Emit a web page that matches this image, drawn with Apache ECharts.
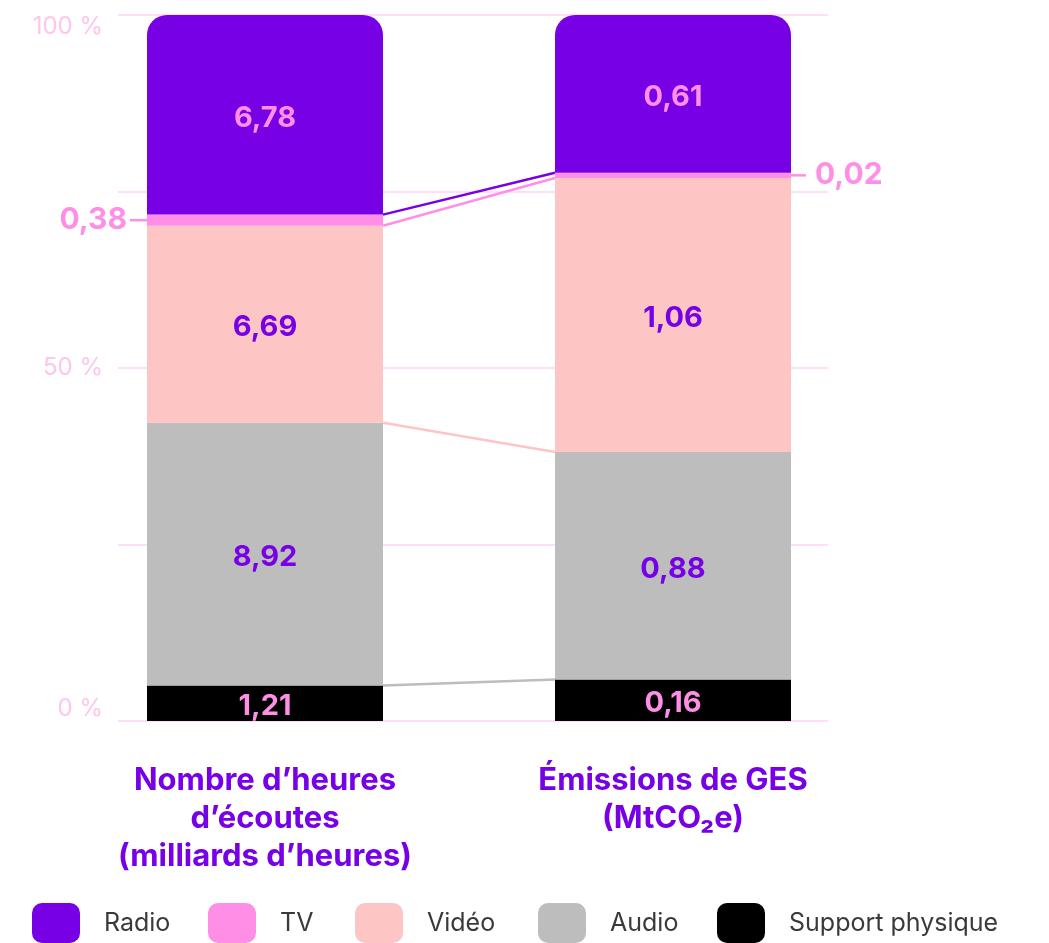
<!DOCTYPE html>
<html>
<head>
<meta charset="utf-8">
<script src="https://cdn.jsdelivr.net/npm/echarts@6/dist/echarts.min.js"></script>
<style>
  html, body { margin: 0; padding: 0; background: #fff; }
  #chart { width: 1049px; height: 943px; }
</style>
</head>
<body>
<div id="chart"></div>
<script>
// categories (x axis)
var categories = ["Nombre d’heures\nd’écoutes\n(milliards d’heures)", "Émissions de GES\n(MtCO₂e)"];
// series, bottom to top of the stack
var seriesNames = ["Support physique", "Audio", "Vidéo", "TV", "Radio"];
var supportValues = [1.21, 0.16];
var audioValues = [8.92, 0.88];
var videoValues = [6.69, 1.06];
var tvValues = [0.38, 0.02];
var radioValues = [6.78, 0.61];
// legend order
var legendNames = ["Radio", "TV", "Vidéo", "Audio", "Support physique"];

var rawValues = [supportValues, audioValues, videoValues, tvValues, radioValues];
var colors = ["#000000", "#bdbdbd", "#fec5c5", "#ff8fe6", "#7700e5"];
var labelColors = ["#ff8fe6", "#7700e5", "#7700e5", "#ff8fe6", "#ff8fe6"];
var BAR_W = 236;
var FONT = "Inter";

var totals = categories.map(function (c, i) {
  return rawValues.reduce(function (s, arr) { return s + arr[i]; }, 0);
});
var pct = rawValues.map(function (arr) {
  return arr.map(function (v, i) { return v / totals[i] * 100; });
});
function fmt(v) { return v.toFixed(2).replace(".", ","); }

// cumulative tops of each segment (boundaries) for connector lines
var cum = [];
var run = [0, 0];
pct.forEach(function (arr, k) {
  run = [run[0] + arr[0], run[1] + arr[1]];
  cum.push(run.slice());
});
var connectorData = [];
for (var k = 0; k < 4; k++) {
  connectorData.push([0, cum[k][0], cum[k][1], k]);
}

var barSeries = seriesNames.map(function (name, k) {
  var isTv = name === "TV";
  return {
    name: name,
    type: "bar",
    stack: "total",
    xAxisIndex: 0,
    yAxisIndex: 0,
    barWidth: BAR_W,
    itemStyle: {
      color: colors[k],
      borderRadius: name === "Radio" ? [20, 20, 0, 0] : 0
    },
    label: {
      show: true,
      position: "inside",
      offset: [0, 3],
      color: labelColors[k],
      fontFamily: FONT,
      fontWeight: "bold",
      fontSize: isTv ? 30 : 29,
      formatter: function (p) { return fmt(rawValues[k][p.dataIndex]); }
    },
    data: pct[k].map(function (v, i) {
      if (!isTv) return v;
      return { value: v, label: { offset: [0, 0], position: i === 0 ? "left" : "right", distance: i === 0 ? 20 : 24 } };
    }),
    z: 2
  };
});

var option = {
  animation: false,
  backgroundColor: "#ffffff",
  grid: [
    { left: 61, right: 172, top: 15, bottom: 222 },
    { left: 118, right: 221, top: 15, bottom: 222 }
  ],
  xAxis: [
    {
      type: "category",
      gridIndex: 0,
      data: categories,
      axisLine: { show: false },
      axisTick: { show: false },
      axisLabel: {
        color: "#7700e5",
        fontFamily: FONT,
        fontWeight: "bold",
        fontSize: 31,
        lineHeight: 38,
        margin: 41
      }
    },
    { type: "value", gridIndex: 1, show: false }
  ],
  yAxis: [
    { type: "value", gridIndex: 0, min: 0, max: 100, show: false },
    {
      type: "value",
      gridIndex: 1,
      min: 0,
      max: 100,
      interval: 25,
      axisLine: { show: false },
      axisTick: { show: false },
      splitLine: { lineStyle: { color: "#ffd3f4", width: 1.5 } },
      axisLabel: {
        color: "#fdc6ef",
        fontFamily: FONT,
        fontSize: 24,
        margin: 15,
        verticalAlignMaxLabel: "top",
        verticalAlignMinLabel: "bottom",
        formatter: function (v) { return v % 50 === 0 ? v + " %" : ""; }
      }
    }
  ],
  legend: legendNames.map(function (n, i) {
    var lefts = [32, 208, 355, 538, 717];
    return {
      data: [n],
      left: lefts[i],
      top: 903,
      padding: 0,
      itemWidth: 48,
      itemHeight: 40,
      icon: "roundRect",
      selectedMode: false,
      textStyle: { color: "#3a3a3a", fontFamily: FONT, fontSize: 25, padding: [0, 0, 0, 19] }
    };
  }),
  series: barSeries.concat([
    {
      name: "connectors",
      type: "custom",
      xAxisIndex: 0,
      yAxisIndex: 0,
      data: connectorData,
      encode: { x: 0, y: [1, 2] },
      z: 1,
      renderItem: function (params, api) {
        var k = api.value(3);
        var yL = api.coord([0, api.value(1)])[1];
        var yR = api.coord([1, api.value(2)])[1];
        var xL = api.coord([0, 0])[0] + BAR_W / 2;
        var xR = api.coord([1, 0])[0] - BAR_W / 2;
        var children = [{
          type: "line",
          shape: { x1: xL, y1: yL, x2: xR, y2: yR },
          style: { stroke: colors[k + 1], lineWidth: 2.5 }
        }];
        // small ticks beside the thin TV segment
        if (k === 3) {
          var mL = api.coord([0, (cum[2][0] + cum[3][0]) / 2])[1];
          var mR = api.coord([1, (cum[2][1] + cum[3][1]) / 2])[1];
          var bxL = api.coord([0, 0])[0] - BAR_W / 2;
          children.push({ type: "line", shape: { x1: bxL - 17, y1: mL, x2: bxL, y2: mL }, style: { stroke: colors[3], lineWidth: 2.5 } });
          children.push({ type: "line", shape: { x1: xR + BAR_W, y1: mR, x2: xR + BAR_W + 15, y2: mR }, style: { stroke: colors[3], lineWidth: 2.5 } });
        }
        return { type: "group", children: children };
      }
    }
  ])
};

var chart = echarts.init(document.getElementById("chart"));
chart.setOption(option);
</script>
</body>
</html>
